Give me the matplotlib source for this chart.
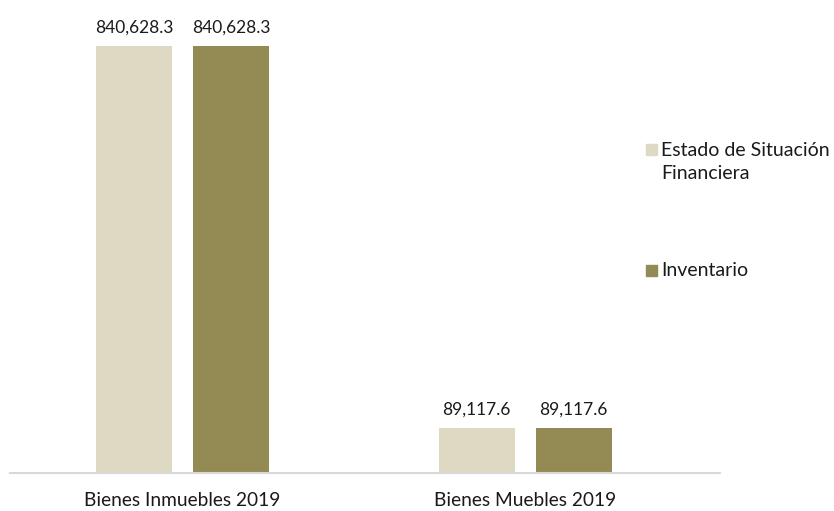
import numpy as np
import matplotlib.pyplot as plt
from matplotlib.patches import Rectangle

categories = ["Bienes Inmuebles 2019", "Bienes Muebles 2019"]
series_names = ["Estado de Situación\nFinanciera", "Inventario"]
estado_values = [840628.3, 89117.6]
inventario_values = [840628.3, 89117.6]

colors = ["#DDD9C3", "#948A54"]

plt.rcParams["font.family"] = ["Lato", "DejaVu Sans"]

W, H = 834, 511
fig = plt.figure(figsize=(W / 100, H / 100), dpi=100)
ax = fig.add_axes([10 / W, 38 / H, 710 / W, 463 / H])

x = np.arange(len(categories))
width = 0.222
offset = 0.1416

for vals, dx, color in [(estado_values, -offset, colors[0]),
                        (inventario_values, offset, colors[1])]:
    bars = ax.bar(x + dx, vals, width, color=color)
    for b, v in zip(bars, vals):
        ax.annotate(f"{v:,.1f}", (b.get_x() + b.get_width() / 2, v),
                    xytext=(0, 7.5), textcoords="offset points",
                    ha="center", va="bottom", fontsize=12.5, color="#1a1a1a")

ax.set_xlim(-0.504, 1.569)
ax.set_ylim(0, 840628.3 * 463 / 427)
ax.set_xticks(x)
ax.set_xticklabels(categories, fontsize=13.8, color="#1a1a1a")
ax.tick_params(axis="x", length=0, pad=14)
ax.set_yticks([])
for side in ["top", "right", "left"]:
    ax.spines[side].set_visible(False)
ax.spines["bottom"].set_color("#D9D9D9")
ax.spines["bottom"].set_linewidth(1.5)

# legend drawn by hand so the swatch sits beside the first text line
legend_rows = [(150, series_names[0]), (270, series_names[1])]
for (y, label), color in zip(legend_rows, colors):
    fig.patches.append(Rectangle((646 / W, 1 - (y + 5.5) / H), 11 / W, 11 / H,
                                 transform=fig.transFigure, color=color))
    fig.text(661 / W, 1 - (y - 8) / H, label, ha="left", va="top",
             fontsize=14, color="#1a1a1a", linespacing=1.4)

fig.savefig("out.png", dpi=100)
